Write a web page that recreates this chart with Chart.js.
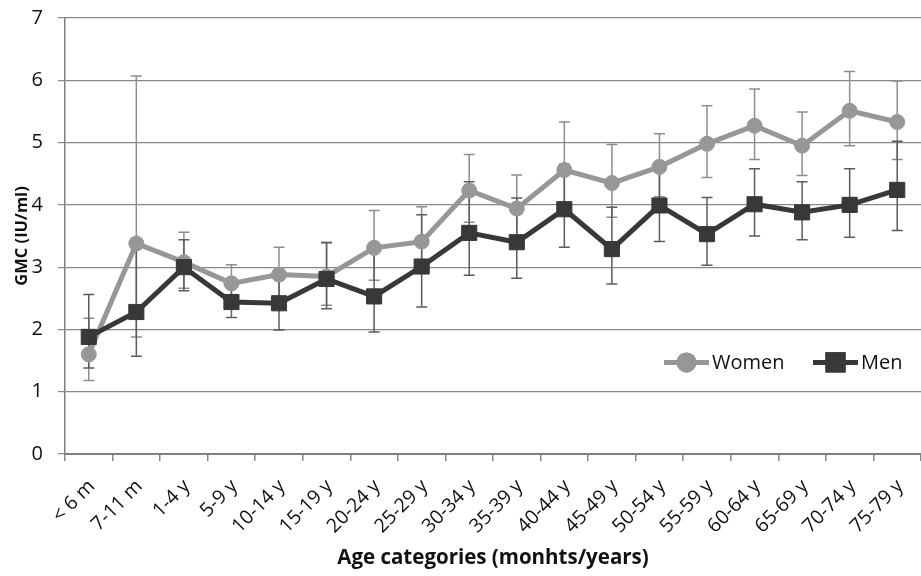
<!DOCTYPE html>
<html>
<head>
<meta charset="utf-8">
<script src="https://cdn.jsdelivr.net/npm/chart.js@4"></script>
<style>
    html, body { margin: 0; padding: 0; background: #fff; }
    #wrap { width: 921px; height: 576px; }
</style>
</head>
<body>
<div id="wrap"><canvas id="gmcChart"></canvas></div>
<script>
const ageLabels = ["< 6 m", "7-11 m", "1-4 y", "5-9 y", "10-14 y", "15-19 y", "20-24 y", "25-29 y", "30-34 y",
    "35-39 y", "40-44 y", "45-49 y", "50-54 y", "55-59 y", "60-64 y", "65-69 y", "70-74 y", "75-79 y"];

const womenGmc  = [1.60, 3.38, 3.08, 2.74, 2.88, 2.85, 3.31, 3.41, 4.23, 3.94, 4.56, 4.35, 4.61, 4.98, 5.27, 4.95, 5.51, 5.33];
const womenLow  = [1.18, 1.88, 2.66, 2.47, 2.50, 2.39, 2.79, 2.93, 3.72, 3.47, 3.90, 3.80, 4.13, 4.44, 4.73, 4.47, 4.95, 4.73];
const womenHigh = [2.18, 6.07, 3.56, 3.04, 3.32, 3.40, 3.91, 3.97, 4.81, 4.48, 5.33, 4.97, 5.14, 5.59, 5.86, 5.49, 6.14, 5.99];

const menGmc  = [1.88, 2.28, 3.00, 2.44, 2.42, 2.81, 2.53, 3.01, 3.55, 3.40, 3.93, 3.29, 3.99, 3.53, 4.01, 3.88, 4.00, 4.24];
const menLow  = [1.38, 1.57, 2.62, 2.19, 1.99, 2.33, 1.96, 2.36, 2.87, 2.82, 3.32, 2.73, 3.41, 3.03, 3.50, 3.44, 3.48, 3.59];
const menHigh = [2.56, 3.31, 3.44, 2.72, 2.94, 3.39, 3.27, 3.84, 4.37, 4.11, 4.65, 3.96, 4.67, 4.12, 4.58, 4.37, 4.58, 5.02];

const yMin = 0;
const yMax = 7;
const yStep = 1;

const FONT = "'Open Sans', 'DejaVu Sans', sans-serif";

// error bars drawn under the lines, from the y scale
const errorBars = {
    id: "errorBars",
    beforeDatasetsDraw(chart) {
        const ctx = chart.ctx;
        const yScale = chart.scales.y;
        chart.data.datasets.forEach((ds, i) => {
            const meta = chart.getDatasetMeta(i);
            ctx.save();
            ctx.strokeStyle = ds.errorColor;
            ctx.lineWidth = 1.5;
            meta.data.forEach((pt, j) => {
                const top = yScale.getPixelForValue(ds.errHigh[j]);
                const bot = yScale.getPixelForValue(ds.errLow[j]);
                ctx.beginPath();
                ctx.moveTo(pt.x, top);
                ctx.lineTo(pt.x, bot);
                ctx.moveTo(pt.x - 5.5, top);
                ctx.lineTo(pt.x + 5.5, top);
                ctx.moveTo(pt.x - 5.5, bot);
                ctx.lineTo(pt.x + 5.5, bot);
                ctx.stroke();
            });
            ctx.restore();
        });
    }
};

// legend sits inside the plot, lower right
const insideLegend = {
    id: "insideLegend",
    afterDraw(chart) {
        const ctx = chart.ctx;
        const area = chart.chartArea;
        const ly = chart.scales.y.getPixelForValue(1.47);
        const items = [
            { ds: chart.data.datasets[0], x: area.right - 257 },
            { ds: chart.data.datasets[1], x: area.right - 108 }
        ];
        ctx.save();
        items.forEach(it => {
            const ds = it.ds;
            ctx.strokeStyle = ds.borderColor;
            ctx.lineWidth = 5;
            ctx.beginPath();
            ctx.moveTo(it.x, ly);
            ctx.lineTo(it.x + 45, ly);
            ctx.stroke();
            Chart.helpers.drawPoint(ctx, {
                pointStyle: ds.pointStyle,
                radius: ds.pointRadius,
                borderWidth: ds.pointBorderWidth,
                rotation: 0
            }, it.x + 22.5, ly);
            ctx.fillStyle = ds.pointBackgroundColor;
            ctx.strokeStyle = ds.pointBorderColor;
            ctx.fill();
            ctx.stroke();
            ctx.fillStyle = "#111";
            ctx.font = "20px " + FONT;
            ctx.textBaseline = "middle";
            ctx.textAlign = "left";
            ctx.fillText(ds.label, it.x + 48, ly + 1);
        });
        ctx.restore();
    }
};

const ctx = document.getElementById("gmcChart").getContext("2d");

new Chart(ctx, {
    type: "line",
    data: {
        labels: ageLabels,
        datasets: [
            {
                label: "Women",
                data: womenGmc,
                errLow: womenLow,
                errHigh: womenHigh,
                errorColor: "#8e8e8e",
                borderColor: "#979797",
                borderWidth: 5,
                pointStyle: "circle",
                pointRadius: 7.5,
                pointBorderWidth: 1,
                pointBackgroundColor: "#979797",
                pointBorderColor: "#979797",
                tension: 0,
                order: 1
            },
            {
                label: "Men",
                data: menGmc,
                errLow: menLow,
                errHigh: menHigh,
                errorColor: "#5c5c5c",
                borderColor: "#383838",
                borderWidth: 5,
                pointStyle: "rect",
                pointRadius: 10.7,
                pointBorderWidth: 1,
                pointBackgroundColor: "#383838",
                pointBorderColor: "#383838",
                tension: 0,
                order: 0
            }
        ]
    },
    options: {
        responsive: true,
        maintainAspectRatio: false,
        animation: false,
        layout: {
            autoPadding: false,
            padding: { top: 18, right: 0, bottom: 0, left: 0 }
        },
        plugins: {
            legend: { display: false },
            tooltip: { enabled: false }
        },
        scales: {
            x: {
                offset: true,
                grid: {
                    offset: true,
                    drawOnChartArea: false,
                    drawTicks: true,
                    tickLength: 7,
                    color: "#868686",
                    lineWidth: 1.5
                },
                border: { color: "#808080", width: 2 },
                ticks: {
                    minRotation: 45,
                    maxRotation: 45,
                    padding: 14,
                    labelOffset: 3,
                    color: "#111",
                    font: { family: FONT, size: 19.5 }
                },
                title: {
                    display: true,
                    text: "Age categories (monhts/years)",
                    color: "#111",
                    font: { family: FONT, size: 20.5, weight: "bold" },
                    padding: { top: 4, bottom: 6 }
                },
                afterFit(scale) {
                    scale.height = 122;
                    scale.paddingLeft = 0;
                    scale.paddingRight = 0;
                }
            },
            y: {
                min: yMin,
                max: yMax,
                grid: {
                    color: "#888888",
                    lineWidth: 1.2,
                    tickLength: 7
                },
                border: { color: "#808080", width: 1.5 },
                ticks: {
                    stepSize: yStep,
                    padding: 15,
                    color: "#111",
                    font: { family: FONT, size: 20 }
                },
                title: {
                    display: true,
                    text: "GMC (IU/ml)",
                    color: "#111",
                    font: { family: FONT, size: 16.5, weight: "bold" },
                    padding: { top: 12, bottom: 0 }
                },
                afterFit(scale) {
                    scale.width = 65;
                    scale.paddingTop = 0;
                    scale.paddingBottom = 0;
                }
            }
        }
    },
    plugins: [errorBars, insideLegend]
});
</script>
</body>
</html>
